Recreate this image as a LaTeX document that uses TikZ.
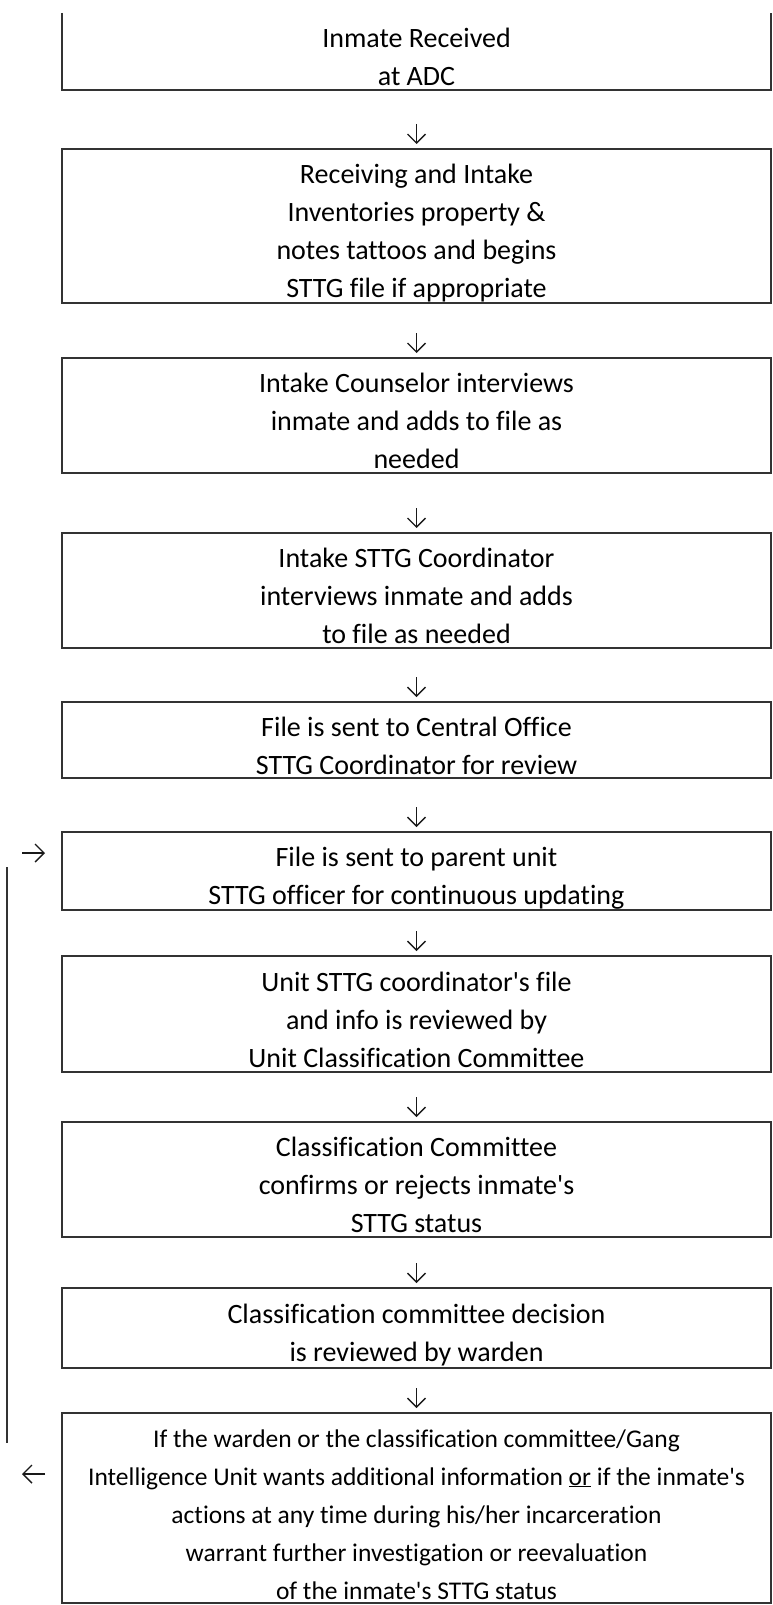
\documentclass[tikz,border=0pt]{standalone}
\usepackage{fontspec}
\setmainfont{Carlito}[Ligatures=NoCommon]
\usetikzlibrary{arrows.meta, positioning}

% fixed first/last line height so that the text sits where the reference has it
\newcommand\firststrut{\rule{0pt}{34pt}}
\newcommand\laststrut{\rule[-4pt]{0pt}{4pt}}

\begin{document}
\begin{tikzpicture}[x=1pt, y=-1pt, node distance=0pt]
    \tikzset{
        box/.style={
            rectangle,
            draw=black!80,
            line width=1.3pt,
            minimum width=709pt,
            inner sep=0pt,
            outer sep=0pt,
            align=center,
            text=black,
            font=\fontsize{28}{38}\selectfont
        },
        arr/.style={
            -{Straight Barb[length=9pt, width=18pt]},
            line width=1.4pt,
            black!90
        }
    }

    \useasboundingbox (0,0) rectangle (772,1605);

    \node[box, draw=none, minimum height=77pt] (received) at (416.5,51.5) {\firststrut Inmate Received\\at ADC\laststrut};
    \draw[black!80, line width=1.3pt] (received.north west) -- (received.south west) -- (received.south east) -- (received.north east);

    \node[box, minimum height=154pt, below=59pt of received] (receiving) {\firststrut Receiving and Intake\\Inventories property \&\\notes tattoos and begins\\STTG file if appropriate\laststrut};
    \node[box, minimum height=115pt, below=55pt of receiving] (counselor) {\firststrut Intake Counselor interviews\\inmate and adds to file as\\needed\laststrut};
    \node[box, minimum height=115pt, below=60pt of counselor] (coordinator) {\firststrut Intake STTG Coordinator\\interviews inmate and adds\\to file as needed\laststrut};
    \node[box, minimum height=76pt, below=54pt of coordinator] (central) {\firststrut File is sent to Central Office\\STTG Coordinator for review\laststrut};
    \node[box, minimum height=78pt, below=54pt of central] (parent) {\firststrut File is sent to parent unit\\STTG officer for continuous updating\laststrut};
    \node[box, minimum height=116pt, below=46pt of parent] (unitfile) {\firststrut Unit STTG coordinator\textquotesingle s file\\and info is reviewed by\\Unit Classification Committee\laststrut};
    \node[box, minimum height=115pt, below=50pt of unitfile] (committee) {\firststrut Classification Committee\\confirms or rejects inmate\textquotesingle s\\STTG status\laststrut};
    \node[box, minimum height=80pt, below=51pt of committee] (warden) {\firststrut Classification committee decision\\is reviewed by warden\laststrut};
    \node[box, minimum height=189pt, below=45pt of warden, font=\fontsize{25.5}{38}\selectfont] (review) {\firststrut If the warden or the classification committee/Gang\\Intelligence Unit wants additional information \underline{or} if the inmate\textquotesingle s\\actions at any time during his/her incarceration\\warrant further investigation or reevaluation\\of the inmate\textquotesingle s STTG status\laststrut};

    % down arrows
    \draw[arr, shorten <=34pt, shorten >=5pt] (received) -- (receiving);
    \draw[arr, shorten <=30pt, shorten >=5pt] (receiving) -- (counselor);
    \draw[arr, shorten <=35pt, shorten >=5pt] (counselor) -- (coordinator);
    \draw[arr, shorten <=29pt, shorten >=5pt] (coordinator) -- (central);
    \draw[arr, shorten <=29pt, shorten >=5pt] (central) -- (parent);
    \draw[arr, shorten <=21pt, shorten >=5pt] (parent) -- (unitfile);
    \draw[arr, shorten <=25pt, shorten >=5pt] (unitfile) -- (committee);
    \draw[arr, shorten <=26pt, shorten >=5pt] (committee) -- (warden);
    \draw[arr, shorten <=20pt, shorten >=5pt] (warden) -- (review);

    % loop back to the parent unit
    \coordinate (looptop) at ([xshift=-55pt, yshift=4pt]parent.west);
    \coordinate (loopbot) at ([xshift=-55pt, yshift=-30pt]review.north west);
    \draw[black!80, line width=1.3pt] (looptop) -- (loopbot);
    \draw[arr] ([xshift=-40pt, yshift=18pt]parent.west) -- ([xshift=-17pt, yshift=18pt]parent.west);
    \draw[arr] ([xshift=-17pt, yshift=34pt]review.west) -- ([xshift=-40pt, yshift=34pt]review.west);

\end{tikzpicture}
\end{document}
